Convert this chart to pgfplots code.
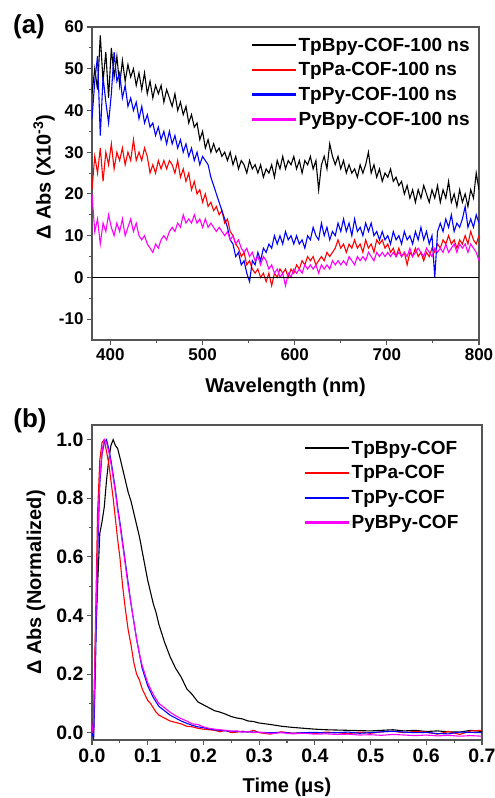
\documentclass[border=0pt]{standalone}
\usepackage{fontspec}
\setmainfont{Liberation Sans}
\usepackage{pgfplots}
\usepackage{pgfplotstable}
\pgfplotsset{compat=1.18}

\definecolor{axgray}{HTML}{555555}
\definecolor{cofred}{HTML}{FF0000}
\definecolor{cofblue}{HTML}{0000FF}
\definecolor{cofmag}{HTML}{FF00FF}

% wavelength, TpBpy, TpPa, TpPy, PyBpy (x10^-3)
\pgfplotstableread{
wl  bpy  pa  py  pybpy
380 44 21 38 20
383 50 29 47 11
386 45 25 53 14
389 58 31 34 8
392 47 23 48 13
395 54 30 42 11
398 43 27 37 15
401 55 32 44 12
404 48 26 54 10
407 53 30 47 13
410 46 28 49 11
413 52 31 43 14
416 47 27 46 10
419 51 30 41 12
422 48 28 43 14
425 50 33 40 11
428 46 28 42 13
431 49 30 38 10
434 45 28 41 9
437 49 31 37 10
440 44 29 39 8
443 47 25 36 7
446 43 27 37 6
449 46 25 34 8
452 44 28 36 7
455 46 26 33 9
458 42 28 35 10
461 45 26 32 9
464 43 28 35 11
467 41 27 32 12
470 44 25 34 11
473 40 28 31 13
476 42 24 33 12
479 39 26 30 15
482 41 23 32 13
485 37 25 29 14
488 39 21 31 13
491 36 23 28 15
494 37 20 30 13
497 33 21 27 14
500 35 18 29 12
503 31 20 28 14
506 33 17 27 12
509 30 18 24 13
512 32 16 22 12
515 30 17 20 11
518 31 15 18 12
521 29 16 16 11
524 30 13 14 10
527 28 14 12 11
530 30 11 9 9
533 27 10 8 10
536 29 8 5 8
539 26 7 6 9
542 28 5 3 7
545 27 6 4 6
548 25 3 1 7
551 28 4 -1 5
554 26 2 4 6
557 27 1 3 4
560 25 2 6 5
563 27 0 4 3
566 24 1 7 5
569 26 -1 6 4
572 25 1 8 2
575 27 -2 7 3
578 24 1 10 1
581 28 0 8 2
584 26 2 10 0
587 29 1 8 1
590 26 2 11 -2
593 28 0 9 1
596 27 2 10 0
599 29 1 8 2
602 26 3 10 1
605 28 2 8 2
608 25 4 9 1
611 28 3 7 3
614 27 5 10 2
617 29 4 9 3
620 26 5 12 2
623 28 3 10 3
626 21 4 9 1
629 27 5 13 3
632 29 4 10 2
635 26 6 12 3
638 32 5 9 2
641 29 6 11 4
644 27 7 10 3
647 29 9 13 4
650 26 7 11 3
653 28 8 14 4
656 25 6 11 3
659 27 8 13 5
662 25 7 10 4
665 26 9 14 3
668 24 7 11 5
671 27 8 12 4
674 25 6 10 5
677 27 9 13 4
680 30 7 11 6
683 25 8 13 5
686 27 6 10 4
689 24 9 11 6
692 26 8 9 5
695 23 9 11 6
698 25 7 9 5
701 24 8 10 6
704 26 6 8 5
707 23 7 11 6
710 24 5 9 5
713 22 7 10 6
716 23 5 8 5
719 20 6 11 6
722 22 3 9 5
725 19 6 10 7
728 21 5 8 5
731 18 7 11 6
734 21 5 9 7
737 19 6 12 6
740 22 4 9 5
743 20 6 11 7
746 18 5 8 6
749 21 7 10 5
752 19 6 0 7
755 22 8 11 6
758 18 7 13 7
761 21 9 11 6
764 19 8 14 8
767 23 10 12 6
770 18 8 15 7
773 20 9 11 8
776 17 7 13 6
779 21 9 12 8
782 18 8 14 7
785 20 10 17 8
788 17 8 12 6
791 21 11 14 8
794 19 9 12 7
797 25 8 15 6
800 21 10 13 4
}\spectra

% time (us), TpBpy, TpPa, TpPy, PyBPy (normalized)
\pgfplotstableread{
t     bpy    pa     py     pybpy
0     0      0      0      0
0.003 0.05   0.0    -0.02  0.05
0.006 0.30   0.35   0.20   0.30
0.010 0.50   0.75   0.60   0.65
0.014 0.68   0.93   0.85   0.87
0.018 0.72   0.99   0.95   0.96
0.022 0.77   1.00   0.99   1.00
0.026 0.86   0.96   1.00   0.99
0.030 0.93   0.92   0.97   0.96
0.034 0.98   0.86   0.93   0.92
0.038 1.00   0.80   0.88   0.87
0.042 0.98   0.73   0.83   0.82
0.046 0.97   0.66   0.77   0.76
0.050 0.94   0.60   0.72   0.71
0.055 0.90   0.50   0.65   0.64
0.060 0.86   0.42   0.58   0.57
0.065 0.82   0.35   0.51   0.50
0.070 0.79   0.30   0.44   0.44
0.075 0.75   0.24   0.38   0.38
0.080 0.71   0.20   0.32   0.32
0.085 0.67   0.18   0.27   0.27
0.090 0.62   0.15   0.22   0.23
0.095 0.57   0.13   0.19   0.20
0.100 0.52   0.11   0.16   0.17
0.105 0.48   0.10   0.14   0.15
0.110 0.44   0.085  0.12   0.13
0.115 0.41   0.07   0.105  0.115
0.120 0.37   0.06   0.09   0.10
0.130 0.31   0.05   0.075  0.085
0.140 0.26   0.04   0.06   0.07
0.150 0.22   0.035  0.05   0.058
0.160 0.19   0.03   0.04   0.048
0.170 0.15   0.022  0.032  0.04
0.180 0.13   0.02   0.025  0.03
0.190 0.105  0.015  0.02   0.028
0.200 0.095  0.012  0.017  0.02
0.210 0.085  0.01   0.013  0.015
0.220 0.075  0.008  0.01   0.012
0.230 0.07   0.003  0.008  0.01
0.240 0.063  0.008  0.006  0.008
0.250 0.055  0.0    0.005  0.005
0.260 0.05   0.002  0.004  0.006
0.270 0.047  0.005  0.003  0.002
0.280 0.04   0.002  0.003  0.004
0.290 0.038  0.008  0.002  0.0
0.300 0.033  0.0    0.001  0.002
0.320 0.028  -0.005 0.0    -0.003
0.340 0.022  0.003  0.001  0.0
0.360 0.018  -0.002 -0.002 -0.004
0.380 0.015  0.0    0.0    -0.002
0.400 0.012  -0.003 0.001  -0.005
0.420 0.01   0.002  -0.001 -0.004
0.440 0.009  0.0    0.0    -0.006
0.460 0.008  -0.004 0.002  -0.005
0.480 0.007  0.002  -0.002 -0.008
0.500 0.006  -0.002 0.0    -0.007
0.520 0.008  0.003  0.003  -0.009
0.540 0.01   0.005  0.005  -0.006
0.560 0.006  0.0    0.002  -0.008
0.580 0.008  0.004  0.0    -0.01
0.600 0.004  0.002  0.001  -0.008
0.620 0.006  -0.005 -0.003 -0.011
0.640 0.003  0.004  -0.004 -0.009
0.660 0.002  -0.006 0.002  -0.012
0.680 0.008  0.006  0.001  -0.01
0.700 0.004  0.008  0.0    -0.012
}\kinetics

\pgfplotsset{
  legline/.style={legend image code/.code={\fill[#1] (0pt,-0.6pt) rectangle (43pt,0.8pt);}},
  cofaxis/.style={
    scale only axis,
    axis line style={axgray, line width=1.1pt},
    tick style={axgray, line width=1.1pt},
    major tick length=5pt, minor tick length=3pt,
    minor tick num=1,
    tick align=outside,
    xtick pos=bottom, ytick pos=left,
    ticklabel style={font=\fontsize{17}{17}\selectfont\bfseries},
    /pgf/number format/assume math mode=true,
    label style={font=\fontsize{20}{20}\selectfont\bfseries},
    legend style={draw=none, fill=none, inner sep=0pt, row sep=5pt,
      font=\fontsize{19}{19}\selectfont\bfseries, anchor=north west,
      nodes={inner sep=2.5pt}},
    legend cell align=left,
    every axis plot/.append style={line width=1.1pt},
  },
}

\begin{document}
\begin{tikzpicture}
\begin{axis}[cofaxis,
  at={(0pt,0pt)}, anchor=south west,
  width=387pt, height=313pt,
  xmin=380, xmax=800, ymin=-15, ymax=60,
  xtick={400,500,...,800}, ytick={-10,0,...,60},
  xlabel={Wavelength (nm)},
  ylabel={Δ Abs (X10\textsuperscript{-3})},
  xlabel style={at={(axis description cs:0.5,-0.150)}, anchor=center},
  ylabel style={at={(axis description cs:-0.124,0.52)}, anchor=center},
  legend style={at={(rel axis cs:0.413,0.974)}},
]
\addplot[draw=black, legline=black] table[x=wl, y=bpy] {\spectra};
\addlegendentry{TpBpy-COF-100 ns}
\addplot[draw=cofred, legline=cofred] table[x=wl, y=pa] {\spectra};
\addlegendentry{TpPa-COF-100 ns}
\addplot[draw=cofblue, legline=cofblue] table[x=wl, y=py] {\spectra};
\addlegendentry{TpPy-COF-100 ns}
\addplot[draw=cofmag, legline=cofmag] table[x=wl, y=pybpy] {\spectra};
\addlegendentry{PyBpy-COF-100 ns}
\addplot[black, line width=0.6pt, forget plot] coordinates {(380,0) (800,0)};
\end{axis}

\begin{axis}[cofaxis,
  at={(0pt,-400pt)}, anchor=south west,
  width=390pt, height=315pt,
  xmin=0, xmax=0.7, ymin=-0.025, ymax=1.05,
  xtick={0,0.1,...,0.7}, ytick={0,0.2,...,1.0},
  ticklabel style={font=\fontsize{19.5}{19.5}\selectfont\bfseries},
  xticklabel style={/pgf/number format/.cd, fixed, fixed zerofill, precision=1},
  yticklabel style={/pgf/number format/.cd, fixed, fixed zerofill, precision=1},
  xlabel={Time (μs)},
  ylabel={Δ Abs (Normalized)},
  xlabel style={at={(axis description cs:0.5,-0.149)}, anchor=center},
  ylabel style={at={(axis description cs:-0.1436,0.5)}, anchor=center},
  legend style={at={(rel axis cs:0.546,0.958)}},
]
\addplot[draw=black, legline=black] table[x=t, y=bpy] {\kinetics};
\addlegendentry{TpBpy-COF}
\addplot[draw=cofred, legline=cofred] table[x=t, y=pa] {\kinetics};
\addlegendentry{TpPa-COF}
\addplot[draw=cofblue, legline=cofblue] table[x=t, y=py] {\kinetics};
\addlegendentry{TpPy-COF}
\addplot[draw=cofmag, legline=cofmag] table[x=t, y=pybpy] {\kinetics};
\addlegendentry{PyBPy-COF}
\end{axis}

\node[font=\fontsize{26}{26}\selectfont\bfseries] at (-63pt,313pt) {(a)};
\node[font=\fontsize{26}{26}\selectfont\bfseries] at (-62pt,-81pt) {(b)};

\pgfresetboundingbox
\path (-92pt,340pt) rectangle (403pt,-458pt);
\end{tikzpicture}
\end{document}
